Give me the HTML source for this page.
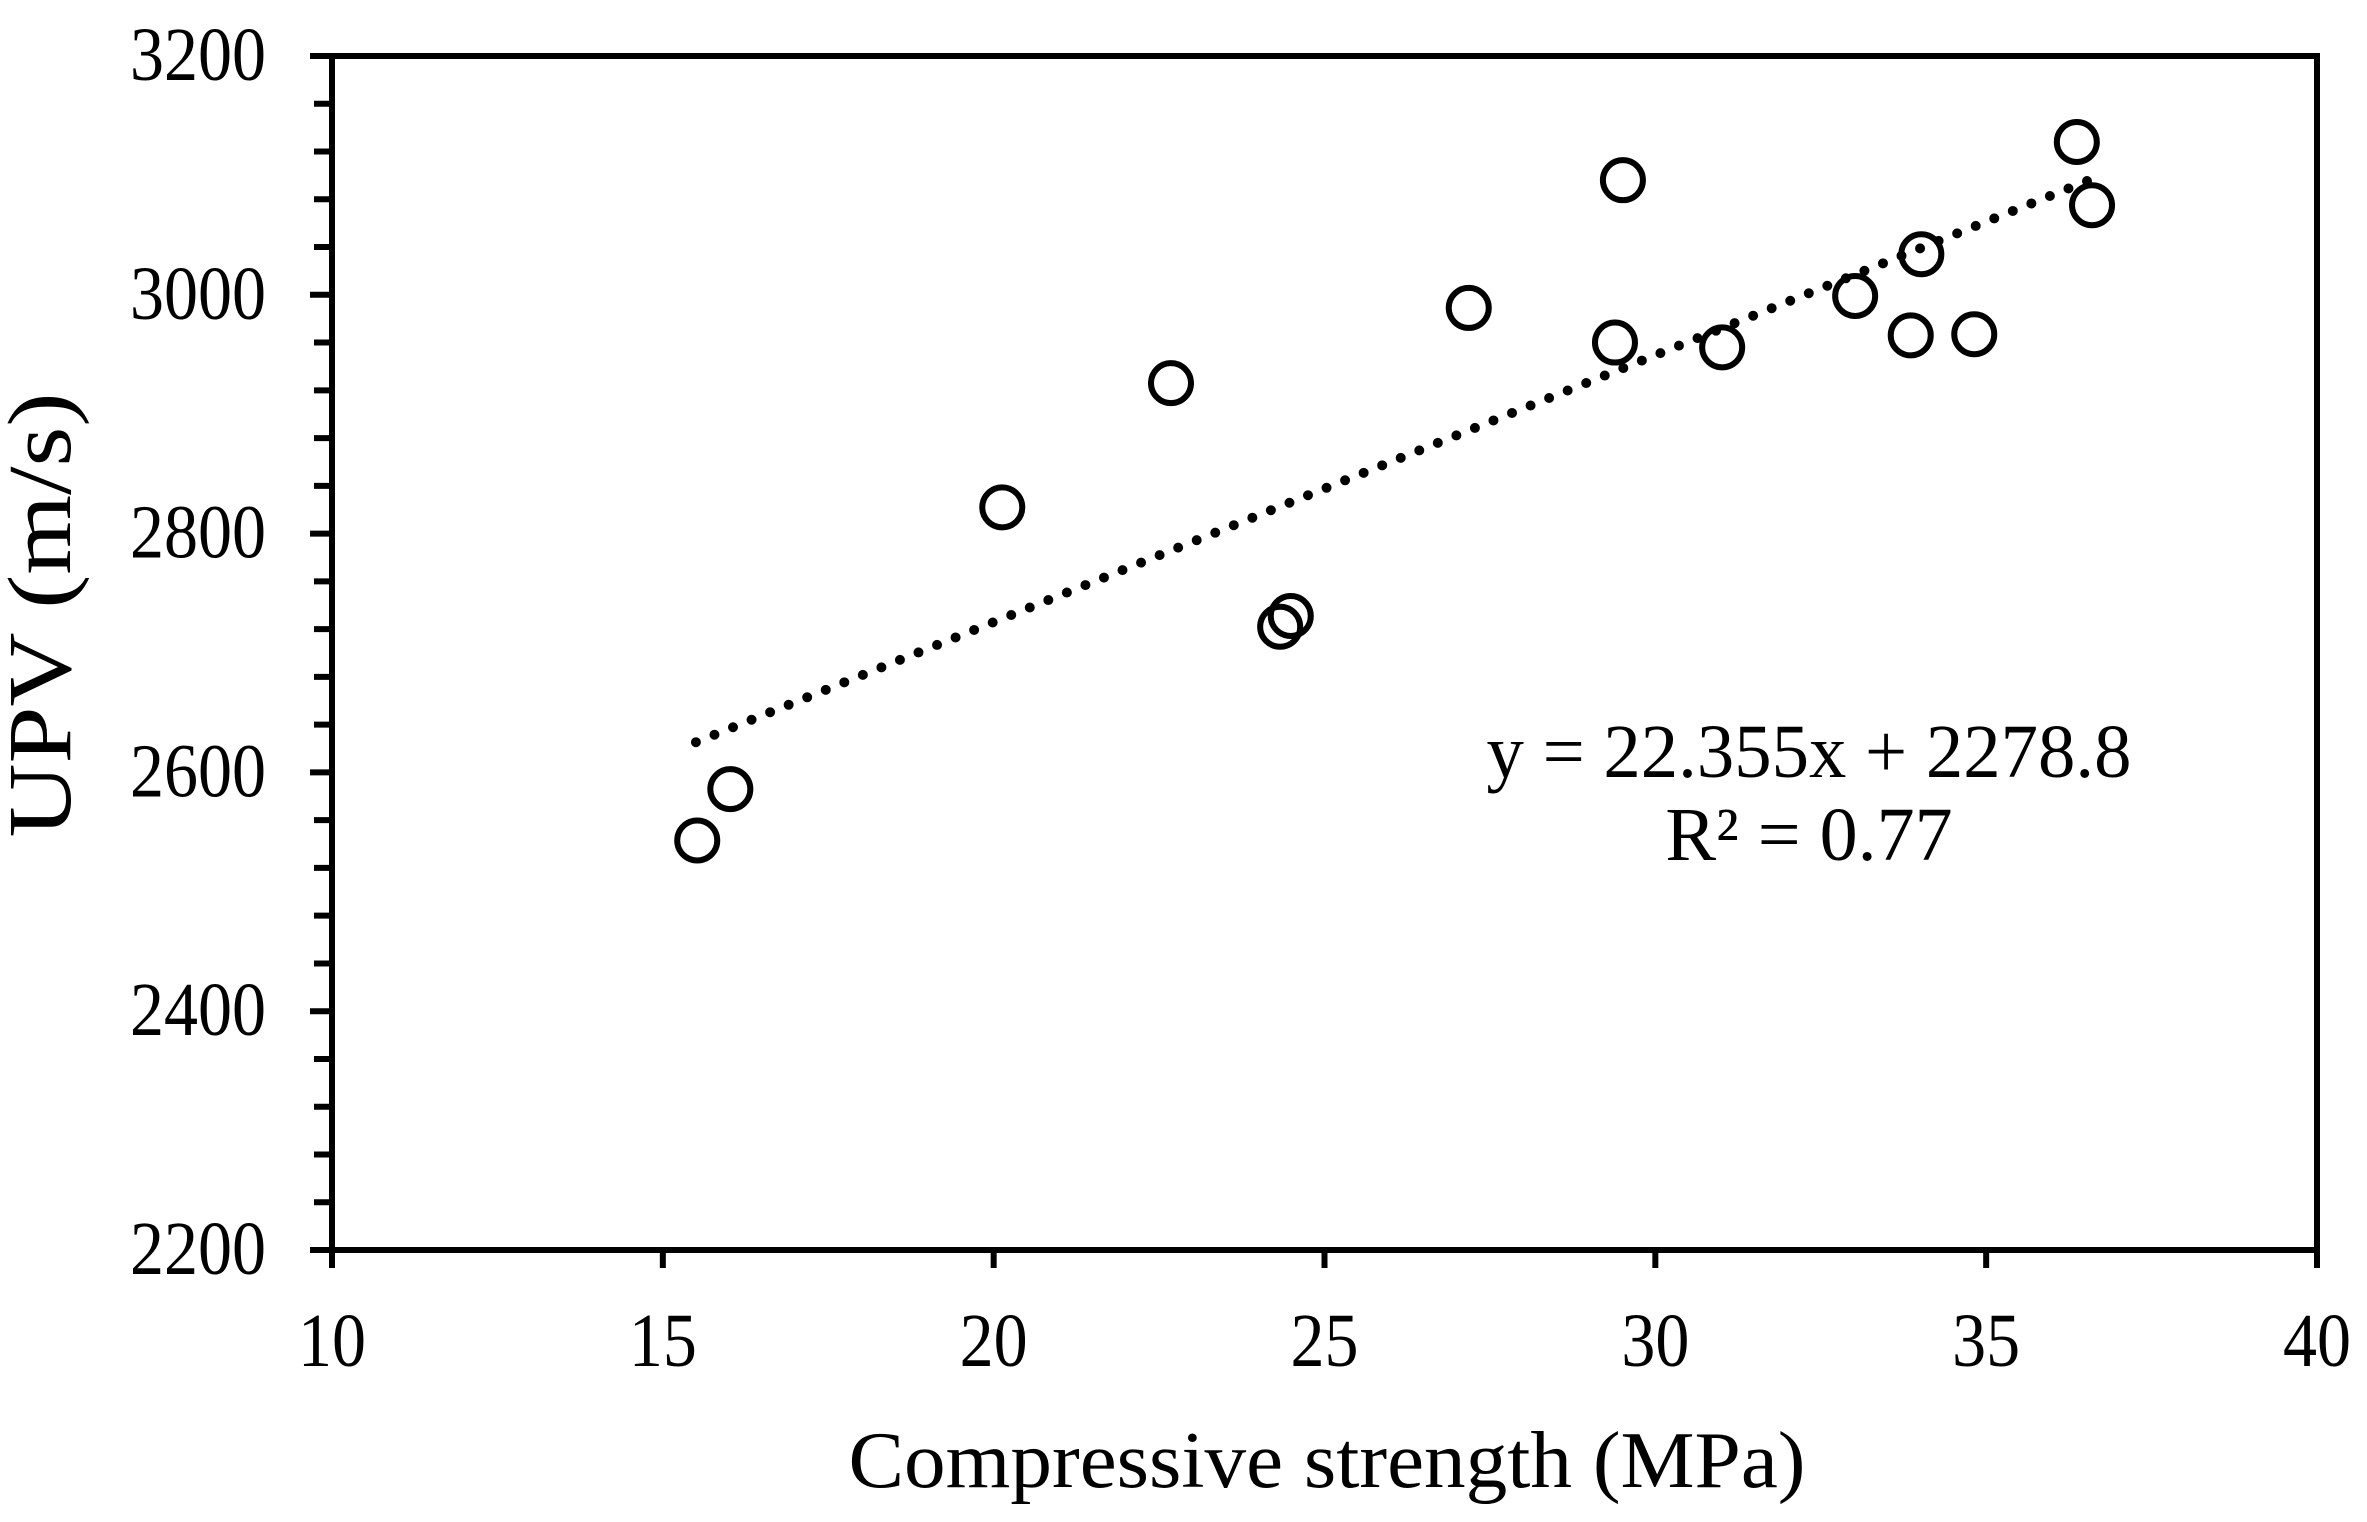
<!DOCTYPE html>
<html><head><meta charset="utf-8"><style>
html,body{margin:0;padding:0;background:#fff;}
svg{display:block;font-family:"Liberation Serif",serif;}
</style></head><body>
<svg id="chart" width="2367" height="1522" viewBox="0 0 2367 1522" xmlns="http://www.w3.org/2000/svg">
<rect x="332" y="56" width="1985" height="1194" fill="#fff" stroke="#000" stroke-width="6"/>
<g id="axes"></g>
<g id="trend"></g>
<g id="points"></g>
<text x="1327" y="1487" font-size="80" text-anchor="middle" textLength="957" lengthAdjust="spacingAndGlyphs">Compressive strength (MPa)</text>
<text x="0" y="0" font-size="90" text-anchor="middle" transform="translate(70,615) rotate(-90)" textLength="445" lengthAdjust="spacingAndGlyphs">UPV (m/s)</text>
<text x="1809" y="777" font-size="76" text-anchor="middle" textLength="645" lengthAdjust="spacingAndGlyphs">y = 22.355x + 2278.8</text>
<text x="1809" y="860" font-size="76" text-anchor="middle">R² = 0.77</text>
</svg>
<script>
const xVals = [15.52,16.02,20.13,22.68,24.33,24.49,27.18,29.39,29.51,31.01,33.02,33.86,34.02,34.82,36.37,36.60];
const yVals = [2543,2586,2822,2926,2722,2731,2989,2960,3096,2956,2999,2966,3034,2967,3128,3075];
const xTicks = [10,15,20,25,30,35,40];
const yTicks = [2200,2400,2600,2800,3000,3200];
const slope = 22.355, intercept = 2278.8;
const trendRange = [15.5,36.6];

const NS = "http://www.w3.org/2000/svg";
const L=332,R=2317,T=56,B=1250;
const xMin=10,xMax=40,yMin=2200,yMax=3200;
const sx = v => L+(v-xMin)/(xMax-xMin)*(R-L);
const sy = v => B-(v-yMin)/(yMax-yMin)*(B-T);
function mk(tag, attrs, parent){const e=document.createElementNS(NS,tag);for(const k in attrs)e.setAttribute(k,attrs[k]);parent.appendChild(e);return e;}
const axes=document.getElementById('axes');
xTicks.forEach(v=>{
  const t=mk('line',{x1:sx(v),x2:sx(v),y1:B,y2:B+18,stroke:'#000','stroke-width':6},axes);
  
  
  const lb=mk('text',{x:sx(v),y:1366,'font-size':76,'text-anchor':'middle',textLength:String(v).length*34,lengthAdjust:'spacingAndGlyphs'},axes);
  lb.textContent=v;
  
  
});
for(let v=yMin; v<=yMax; v+=40){
  const major=(v-yMin)%200===0;
  const t=mk('line',{x1:L-(major?22:18),x2:L,y1:sy(v),y2:sy(v),stroke:'#000','stroke-width':6},axes);
  
  
}
yTicks.forEach(v=>{
  const lb=mk('text',{x:266,y:sy(v)+24,'font-size':76,'text-anchor':'end',textLength:136,lengthAdjust:'spacingAndGlyphs'},axes);
  lb.textContent=v;
  
  
});
const tr=document.getElementById('trend');
const tl=mk('line',{x1:sx(trendRange[0]),y1:sy(slope*trendRange[0]+intercept),x2:sx(trendRange[1]),y2:sy(slope*trendRange[1]+intercept),stroke:'#000','stroke-width':10,'stroke-dasharray':'0 20','stroke-linecap':'round'},tr);


const pts=document.getElementById('points');
xVals.forEach((x,i)=>{
  const c=mk('circle',{cx:sx(x),cy:sy(yVals[i]),r:20,fill:'none',stroke:'#000','stroke-width':6},pts);
  
  
});
</script>
</body></html>
